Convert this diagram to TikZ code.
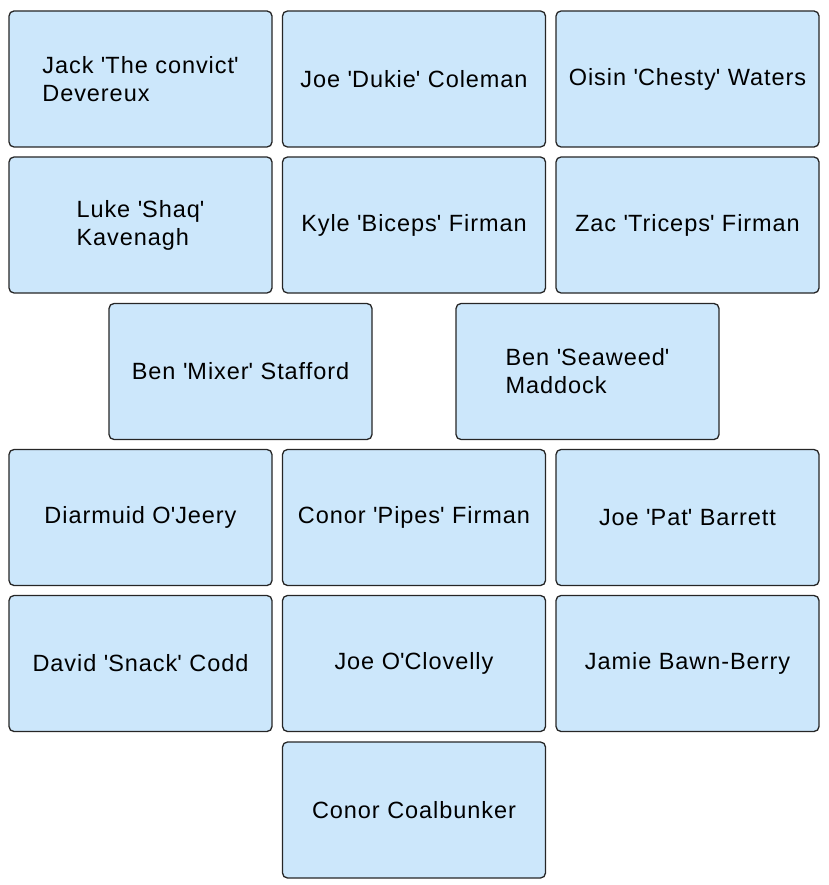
\documentclass[tikz,border=0pt]{standalone}
\usepackage{fontspec}
\setmainfont{Liberation Sans}[LetterSpace=4]
\newcommand\qq{\textquotesingle}
\begin{document}
\begin{tikzpicture}[x=1pt,y=-1pt,
  b/.style={draw=black!85,line width=1.3pt,fill={rgb,255:red,204;green,231;blue,251},rounded corners=5pt,minimum width=263pt,minimum height=136pt,align=left,font=\fontsize{23.5}{28}\selectfont,inner sep=0pt}]
\useasboundingbox (0,0) rectangle (828,885);
\node[b] (a1) at (140.5,79) {Jack \qq The convict\qq\\Devereux};
\node[b] (a2) at (414,79) {Joe \qq Dukie\qq\ Coleman};
\node[b] (a3) at (687.5,79) {Oisin \qq Chesty\qq\ Waters};
\node[b] (b1) at (140.5,225) {Luke \qq Shaq\qq\\Kavenagh};
\node[b] (b2) at (414,225) {Kyle \qq Biceps\qq\ Firman};
\node[b] (b3) at (687.5,225) {Zac \qq Triceps\qq\ Firman};
\node[b] (c1) at (240.5,371.5) {Ben \qq Mixer\qq\ Stafford};
\node[b] (c2) at (587.5,371.5) {Ben \qq Seaweed\qq\\Maddock};
\node[b] (d1) at (140.5,517.5) {Diarmuid O\qq Jeery};
\node[b] (d2) at (414,517.5) {Conor \qq Pipes\qq\ Firman};
\node[b] (d3) at (687.5,517.5) {Joe \qq Pat\qq\ Barrett};
\node[b] (e1) at (140.5,663.5) {David \qq Snack\qq\ Codd};
\node[b] (e2) at (414,663.5) {Joe O\qq Clovelly};
\node[b] (e3) at (687.5,663.5) {Jamie Bawn-Berry};
\node[b] (f2) at (414,810) {Conor Coalbunker};
\end{tikzpicture}
\end{document}
